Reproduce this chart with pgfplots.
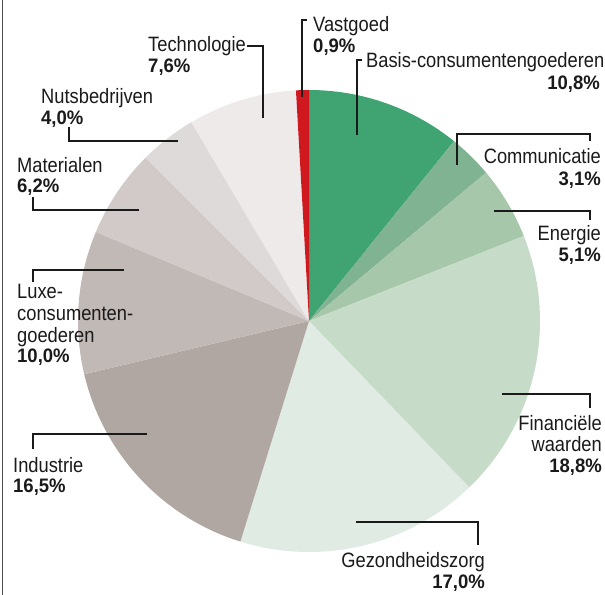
\documentclass[border=0pt]{standalone}
\usepackage{pgfplots}
\usepackage{pgfplotstable}
\pgfplotsset{compat=1.18}
\usepackage{fontspec}
\setmainfont{Liberation Sans}
\newfontfamily\labfont{Liberation Sans}[FakeStretch=0.88]
\newfontfamily\pctfont{Liberation Sans}[FakeStretch=0.95]

\definecolor{slice0}{HTML}{3FA372}
\definecolor{slice1}{HTML}{80B391}
\definecolor{slice2}{HTML}{A6C7AA}
\definecolor{slice3}{HTML}{C6DCC8}
\definecolor{slice4}{HTML}{E0EBE3}
\definecolor{slice5}{HTML}{B0A7A3}
\definecolor{slice6}{HTML}{C1B9B6}
\definecolor{slice7}{HTML}{D1CAC8}
\definecolor{slice8}{HTML}{DFDADA}
\definecolor{slice9}{HTML}{EEEAEA}
\definecolor{slice10}{HTML}{D0191E}
\definecolor{txt}{HTML}{1A1A1A}

\pgfplotstableread{
name value
Basis 10.8
Communicatie 3.1
Energie 5.1
Financiele 18.8
Gezondheidszorg 17.0
Industrie 16.5
Luxe 10.0
Materialen 6.2
Nutsbedrijven 4.0
Technologie 7.6
Vastgoed 0.9
}\piedata

\begin{document}
\begin{tikzpicture}[
  lab/.style={font=\labfont\fontsize{20.8bp}{24bp}\selectfont, inner sep=0pt, text=txt},
  pct/.style={font=\pctfont\bfseries\fontsize{19.5bp}{24bp}\selectfont, inner sep=0pt, text=txt},
  lead/.style={draw=txt, line width=1.3bp}
]
\begin{axis}[
  width=605bp, height=595bp, scale only axis,
  xmin=0, xmax=605, ymin=0, ymax=595,
  y dir=reverse,
  hide axis, clip=false,
]
% pie slices from the data table, clockwise from the top
\def\cum{0}
\pgfplotsforeachungrouped \i in {0,...,10}{%
  \pgfplotstablegetelem{\i}{value}\of\piedata
  \pgfmathsetmacro\angA{90-3.6*\cum}%
  \pgfmathsetmacro\cum{\cum+\pgfplotsretval}%
  \pgfmathsetmacro\angB{90-3.6*\cum}%
  \edef\temp{\noexpand\addplot[fill=slice\i, draw=none, domain=\angB:\angA, samples=80] ({309+231*cos(x)},{321-231*sin(x)}) -- (axis cs:309,321) -- cycle;}%
  \temp
}

% left border
\addplot[draw=black!70, line width=1.5bp] coordinates {(2.5,0) (2.5,595)};

% leader lines
\addplot[lead] coordinates {(362,60) (357,60) (357,135)};
\addplot[lead] coordinates {(457,165) (457,134) (590,134) (590,141)};
\addplot[lead] coordinates {(494,211) (590,211) (590,220)};
\addplot[lead] coordinates {(502,394) (590,394) (590,408)};
\addplot[lead] coordinates {(356,522) (478,522) (478,545)};
\addplot[lead] coordinates {(147,434) (33,434) (33,449)};
\addplot[lead] coordinates {(124,270) (33,270) (33,282)};
\addplot[lead] coordinates {(33,197) (33,210) (139,210)};
\addplot[lead] coordinates {(69,127) (69,141) (178,141)};
\addplot[lead] coordinates {(247,46) (263,46) (263,118)};
\addplot[lead] coordinates {(307,20) (302,20) (302,97)};

% labels
\node[lab, anchor=base west] at (axis cs:313,32) {Vastgoed};
\node[pct, anchor=base west] at (axis cs:313,53) {0,9\%};
\node[lab, anchor=base west] at (axis cs:366,68) {Basis-consumentengoederen};
\node[pct, anchor=base east] at (axis cs:600,90) {10,8\%};
\node[lab, anchor=base east] at (axis cs:601,163) {Communicatie};
\node[pct, anchor=base east] at (axis cs:601,185) {3,1\%};
\node[lab, anchor=base east] at (axis cs:601,240) {Energie};
\node[pct, anchor=base east] at (axis cs:601,261) {5,1\%};
\node[lab, anchor=base east] at (axis cs:602,430) {Financiële};
\node[lab, anchor=base east] at (axis cs:602,451) {waarden};
\node[pct, anchor=base east] at (axis cs:602,472) {18,8\%};
\node[lab, anchor=base east] at (axis cs:485,567) {Gezondheidszorg};
\node[pct, anchor=base east] at (axis cs:485,588) {17,0\%};
\node[lab, anchor=base west] at (axis cs:13,472) {Industrie};
\node[pct, anchor=base west] at (axis cs:13,492) {16,5\%};
\node[lab, anchor=base west] at (axis cs:17,298) {Luxe-};
\node[lab, anchor=base west] at (axis cs:17,320) {consumenten-};
\node[lab, anchor=base west] at (axis cs:17,342) {goederen};
\node[pct, anchor=base west] at (axis cs:17,362) {10,0\%};
\node[lab, anchor=base west] at (axis cs:17,172) {Materialen};
\node[pct, anchor=base west] at (axis cs:17,192) {6,2\%};
\node[lab, anchor=base west] at (axis cs:41,103) {Nutsbedrijven};
\node[pct, anchor=base west] at (axis cs:41,124) {4,0\%};
\node[lab, anchor=base west] at (axis cs:148,52) {Technologie};
\node[pct, anchor=base west] at (axis cs:148,73) {7,6\%};
\end{axis}
\pgfresetboundingbox
\useasboundingbox (0,0) rectangle (605bp,595bp);
\end{tikzpicture}
\end{document}
